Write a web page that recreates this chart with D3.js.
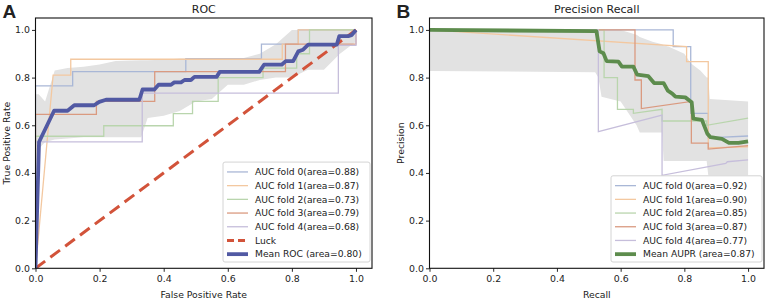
<!DOCTYPE html>
<html>
<head>
<meta charset="utf-8">
<script src="https://cdn.jsdelivr.net/npm/d3@7"></script>
<style>
  body { margin: 0; background: #fff; }
  svg text { font-family: "DejaVu Sans", sans-serif; fill: #222; }
</style>
</head>
<body>
<div id="viz"></div>
<script>
// ---- ROC data (fpr, tpr) ----
const rocFold0 = [[0,0],[0,0.765],[0.116,0.765],[0.116,0.825],[0.469,0.825],[0.469,0.88],[0.705,0.88],[0.705,0.94],[0.82,0.94],[0.82,1],[1,1]];
const rocFold1 = [[0,0],[0.055,0.81],[0.11,0.81],[0.11,0.877],[0.77,0.877],[0.77,0.94],[0.82,0.94],[0.82,1],[1,1]];
const rocFold2 = [[0,0],[0,0.554],[0.213,0.554],[0.213,0.598],[0.43,0.598],[0.43,0.649],[0.49,0.649],[0.49,0.70],[0.57,0.70],[0.57,0.80],[0.71,0.80],[0.71,0.84],[0.815,0.84],[0.815,0.90],[0.855,0.90],[0.855,1],[1,1]];
const rocFold3 = [[0,0],[0,0.646],[0.19,0.646],[0.19,0.70],[0.372,0.70],[0.372,0.825],[0.78,0.825],[0.78,0.94],[1,0.94],[1,1]];
const rocFold4 = [[0,0],[0,0.53],[0.333,0.53],[0.333,0.735],[0.945,0.735],[0.945,0.935],[1,0.935],[1,1]];
const rocMean = [[0,0],[0.011,0.53],[0.058,0.661],[0.1,0.661],[0.121,0.684],[0.183,0.684],[0.199,0.698],[0.22,0.707],[0.324,0.707],[0.334,0.75],[0.371,0.75],[0.384,0.77],[0.423,0.77],[0.433,0.78],[0.454,0.78],[0.465,0.79],[0.485,0.79],[0.496,0.803],[0.565,0.803],[0.575,0.824],[0.698,0.824],[0.713,0.854],[0.768,0.854],[0.781,0.869],[0.804,0.869],[0.82,0.91],[0.835,0.917],[0.851,0.938],[0.94,0.938],[0.948,0.974],[0.976,0.974],[0.986,0.978],[1,1]];
const rocBandX = [0,0.01,0.03,0.06,0.1,0.15,0.2,0.25,0.3,0.33,0.35,0.4,0.45,0.5,0.55,0.6,0.65,0.7,0.75,0.8,0.85,0.9,0.95,1.0];
const rocUpper = [0.73,0.73,0.70,0.83,0.84,0.845,0.855,0.87,0.872,0.873,0.873,0.875,0.88,0.88,0.882,0.882,0.882,0.9,0.94,1,1,1,1,1];
const rocLower = [0,0.5,0.53,0.54,0.545,0.55,0.55,0.55,0.55,0.55,0.63,0.64,0.66,0.7,0.71,0.77,0.77,0.79,0.8,0.8,0.833,0.833,0.9,0.95];
const rocLabels = ["AUC fold 0(area=0.88)","AUC fold 1(area=0.87)","AUC fold 2(area=0.73)","AUC fold 3(area=0.79)","AUC fold 4(area=0.68)","Luck","Mean ROC (area=0.80)"];

// ---- PR data (recall, precision) ----
const prFold0 = [[0,1],[0.765,1],[0.765,0.93],[0.82,0.93],[0.82,0.65],[0.875,0.65],[0.875,0.547],[1,0.555]];
const prFold1 = [[0,1],[0.807,0.93],[0.807,0.867],[0.875,0.867],[0.875,0.505],[1,0.51]];
const prFold2 = [[0,1],[0.548,1],[0.548,0.80],[0.59,0.80],[0.59,0.667],[0.64,0.667],[0.64,0.65],[0.73,0.667],[0.73,0.618],[0.87,0.618],[0.87,0.60],[1,0.63]];
const prFold3 = [[0,1],[0.645,1],[0.645,0.79],[0.665,0.79],[0.665,0.67],[0.822,0.70],[0.822,0.525],[0.875,0.525],[0.875,0.50],[1,0.515]];
const prFold4 = [[0,1],[0.53,1],[0.53,0.573],[0.73,0.643],[0.73,0.39],[0.93,0.44],[0.935,0.447],[1,0.455]];
const prMean = [[0,1],[0.524,0.995],[0.534,0.91],[0.546,0.902],[0.556,0.869],[0.593,0.867],[0.604,0.846],[0.64,0.846],[0.652,0.812],[0.687,0.806],[0.705,0.777],[0.735,0.777],[0.748,0.745],[0.762,0.733],[0.772,0.72],[0.803,0.717],[0.823,0.697],[0.828,0.628],[0.855,0.623],[0.872,0.565],[0.882,0.55],[0.918,0.543],[0.94,0.526],[0.97,0.526],[1,0.532]];
const prBandX = [0,0.52,0.53,0.54,0.6,0.65,0.66,0.7,0.73,0.735,0.75,0.8,0.82,0.85,0.87,0.875,0.88,1.0];
const prUpper = [1,1,1,1,1,0.98,0.97,0.95,0.94,0.935,0.93,0.9,0.86,0.83,0.80,0.80,0.71,0.70];
const prLower = [0.828,0.822,0.80,0.72,0.70,0.60,0.57,0.57,0.57,0.45,0.45,0.45,0.45,0.45,0.45,0.39,0.39,0.39];
const prLabels = ["AUC fold 0(area=0.92)","AUC fold 1(area=0.90)","AUC fold 2(area=0.85)","AUC fold 3(area=0.87)","AUC fold 4(area=0.77)","Mean AUPR (area=0.87)"];

const ticks = [0, 0.2, 0.4, 0.6, 0.8, 1.0];
const foldColors = ["#a9b7d6", "#f3c8a0", "#b9d5ad", "#da9a80", "#c6bedb"];

const width = 768, height = 300;
const svg = d3.select("#viz").append("svg")
    .attr("width", width)
    .attr("height", height);

function drawPanel(opt) {
    const x = d3.scaleLinear().domain([0, 1.05]).range([opt.left, opt.right]);
    const y = d3.scaleLinear().domain([0, 1.05]).range([268.3, 18]);
    const g = svg.append("g");

    g.append("clipPath").attr("id", opt.id)
        .append("rect")
        .attr("x", opt.left).attr("y", 18)
        .attr("width", opt.right - opt.left).attr("height", 250.3);

    const plot = g.append("g").attr("clip-path", `url(#${opt.id})`);
    const line = d3.line().x(d => x(d[0])).y(d => y(d[1]));

    const area = d3.area()
        .x(d => x(d))
        .y0((d, i) => y(opt.lower[i]))
        .y1((d, i) => y(opt.upper[i]));
    plot.append("path")
        .attr("d", area(opt.bandX))
        .attr("fill", "#e2e2e2");

    opt.folds.forEach((f, i) => {
        plot.append("path")
            .attr("d", line(f))
            .attr("fill", "none")
            .attr("stroke", foldColors[i])
            .attr("stroke-width", 1.3);
    });

    if (opt.luck) {
        plot.append("path")
            .attr("d", line([[0, 0], [1, 1]]))
            .attr("fill", "none")
            .attr("stroke", "#d2533a")
            .attr("stroke-width", 3)
            .attr("stroke-dasharray", "12,6.5");
    }

    plot.append("path")
        .attr("d", line(opt.mean))
        .attr("fill", "none")
        .attr("stroke", opt.meanColor)
        .attr("stroke-width", 3.8)
        .attr("stroke-linejoin", "round");

    // frame
    g.append("rect")
        .attr("x", opt.left).attr("y", 18)
        .attr("width", opt.right - opt.left).attr("height", 250.3)
        .attr("fill", "none")
        .attr("stroke", "#111")
        .attr("stroke-width", 1.1);

    // ticks
    const xt = g.append("g").attr("transform", "translate(0,268.3)")
        .call(d3.axisBottom(x).tickValues(ticks).tickFormat(d3.format(".1f")).tickSize(3.5));
    const yt = g.append("g").attr("transform", `translate(${opt.left},0)`)
        .call(d3.axisLeft(y).tickValues(ticks).tickFormat(d3.format(".1f")).tickSize(3.5));
    [xt, yt].forEach(a => {
        a.select(".domain").remove();
        a.selectAll(".tick line").attr("stroke", "#111").attr("stroke-width", 0.9);
        a.selectAll(".tick text")
            .style("font-family", "DejaVu Sans, sans-serif")
            .style("font-size", "9.4px")
            .attr("fill", "#222");
    });
    xt.selectAll(".tick text").attr("dy", "0.75em");
    yt.selectAll(".tick text").attr("x", -5.5);

    // title and axis labels
    g.append("text")
        .attr("x", (opt.left + opt.right) / 2).attr("y", 13)
        .attr("text-anchor", "middle")
        .style("font-size", "11px")
        .text(opt.title);
    g.append("text")
        .attr("x", (opt.left + opt.right) / 2).attr("y", 298)
        .attr("text-anchor", "middle")
        .style("font-size", "9.3px")
        .text(opt.xLabel);
    g.append("text")
        .attr("transform", `translate(${opt.left - 26},${(268.3 + 18) / 2}) rotate(-90)`)
        .attr("text-anchor", "middle")
        .style("font-size", "9.3px")
        .text(opt.yLabel);
    g.append("text")
        .attr("x", opt.left - 33).attr("y", 18)
        .style("font-family", "Liberation Sans, Arial, sans-serif")
        .style("font-weight", "bold")
        .style("font-size", "19px")
        .attr("fill", "#111")
        .text(opt.letter);

    // legend
    const n = opt.labels.length;
    const rowH = 13.7;
    const lg = g.append("g");
    lg.append("rect")
        .attr("x", opt.legX).attr("y", 262 - n * rowH - 4)
        .attr("width", opt.right - 2 - opt.legX).attr("height", n * rowH + 4)
        .attr("rx", 2)
        .attr("fill", "#fff").attr("fill-opacity", 0.85)
        .attr("stroke", "#cfcfcf").attr("stroke-width", 0.9);

    const items = opt.labels.map((label, i) => {
        let color = foldColors[i], w = 1.3, dash = null;
        if (i >= 5) {
            if (opt.luck && i === 5) { color = "#d2533a"; w = 3; dash = "7,4"; }
            else { color = opt.meanColor; w = 3.8; }
        }
        return {label, color, w, dash};
    });

    const rows = lg.selectAll(".leg-row")
        .data(items)
        .join("g")
        .attr("class", "leg-row")
        .attr("transform", (d, i) => `translate(${opt.legX},${262 - (n - i) * rowH + rowH / 2 - 1})`);
    rows.append("line")
        .attr("x1", 4).attr("x2", 25)
        .attr("stroke", d => d.color)
        .attr("stroke-width", d => d.w)
        .attr("stroke-dasharray", d => d.dash);
    rows.append("text")
        .attr("x", 32).attr("y", 3.3)
        .style("font-size", "9.2px")
        .text(d => d.label);
}

drawPanel({
    id: "clipA", left: 35.5, right: 372, title: "ROC", letter: "A",
    xLabel: "False Positive Rate", yLabel: "True Positive Rate",
    folds: [rocFold0, rocFold1, rocFold2, rocFold3, rocFold4],
    mean: rocMean, meanColor: "#5159a3", luck: true,
    bandX: rocBandX, upper: rocUpper, lower: rocLower,
    labels: rocLabels, legX: 223
});

drawPanel({
    id: "clipB", left: 429.5, right: 764, title: "Precision Recall", letter: "B",
    xLabel: "Recall", yLabel: "Precision",
    folds: [prFold0, prFold1, prFold2, prFold3, prFold4],
    mean: prMean, meanColor: "#5d8c4d", luck: false,
    bandX: prBandX, upper: prUpper, lower: prLower,
    labels: prLabels, legX: 611
});
</script>
</body>
</html>
